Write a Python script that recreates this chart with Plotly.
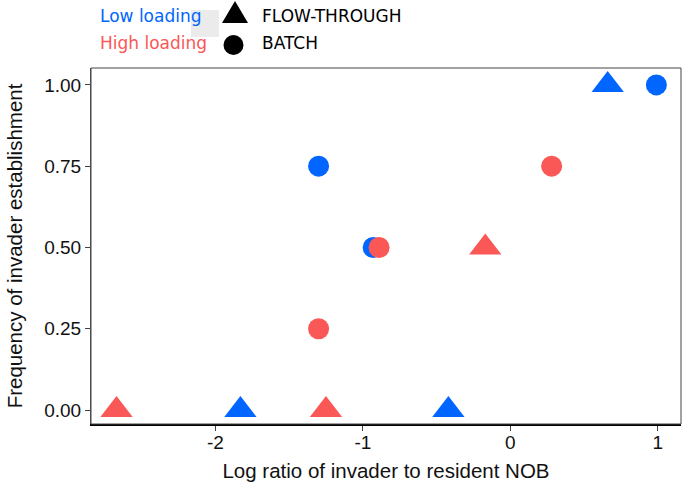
import plotly.graph_objects as go

# data (log ratio, frequency of establishment)
low_flow_x = [0.66, -1.83, -0.42]
low_flow_y = [1.00, 0.00, 0.00]
low_batch_x = [0.99, -1.30, -0.93]
low_batch_y = [1.00, 0.75, 0.50]
high_flow_x = [-2.67, -1.25, -0.17]
high_flow_y = [0.00, 0.00, 0.50]
high_batch_x = [-1.30, -0.89, 0.28]
high_batch_y = [0.25, 0.50, 0.75]

x_ticks = [-2, -1, 0, 1]
y_ticks = [0, 0.25, 0.5, 0.75, 1.0]
y_ticktext = ["0.00", "0.25", "0.50", "0.75", "1.00"]

BLUE = "#0066FF"
RED = "#FA5757"

# plot panel in pixels (used to place the hand made legend)
L, R, T, B = 91, 681, 68, 424


def px(x):
    return (x - L) / (R - L)


def py(y):
    return (B - y) / (B - T)


fig = go.Figure()

for xs, ys, col, sym, size in [
    (low_flow_x, low_flow_y, BLUE, "triangle-up", 28),
    (low_batch_x, low_batch_y, BLUE, "circle", 21),
    (high_flow_x, high_flow_y, RED, "triangle-up", 28),
    (high_batch_x, high_batch_y, RED, "circle", 21),
]:
    fig.add_trace(go.Scatter(
        x=xs, y=ys, mode="markers",
        marker=dict(color=col, symbol=sym, size=size, line=dict(width=0)),
        showlegend=False, hoverinfo="x+y"
    ))

fig.update_layout(
    width=685, height=488,
    margin=dict(l=L, r=685 - R, t=T, b=488 - B),
    plot_bgcolor="white", paper_bgcolor="white",
    font=dict(family="Liberation Sans, Arial, sans-serif", color="#111"),
    showlegend=False,
)

fig.update_xaxes(
    range=[-2.843, 1.157], tickvals=x_ticks, ticktext=["-2", "-1", "0", "1"],
    showgrid=False, zeroline=False, automargin=False,
    showline=True, linecolor="black", linewidth=2,
    ticks="outside", ticklen=5, tickcolor="#444", tickwidth=1,
    tickfont=dict(size=19), ticklabelstandoff=-5,
    title=dict(text="Log ratio of invader to resident NOB", font=dict(size=20.5), standoff=12),
)
fig.update_yaxes(
    range=[-0.043, 1.052], tickvals=y_ticks, ticktext=y_ticktext,
    showgrid=False, zeroline=False, automargin=False,
    showline=True, linecolor="#555", linewidth=1,
    ticks="outside", ticklen=5, tickcolor="#444", tickwidth=1,
    tickfont=dict(size=19),
    title=dict(text="Frequency of invader establishment", font=dict(size=20.5), standoff=16),
)

# thin frame on top and right
fig.add_shape(type="rect", xref="paper", yref="paper", x0=0, x1=1, y0=0, y1=1,
              line=dict(color="#444", width=1), layer="above")

# grey key background left over in the legend
fig.add_shape(type="rect", xref="paper", yref="paper",
              x0=px(191), x1=px(219), y0=py(37), y1=py(10),
              fillcolor="#EBEBEB", line=dict(width=0), layer="below")

# legend keys: black triangle and circle
tri = "M {} {} L {} {} L {} {} Z".format(px(222), py(23), px(248), py(23), px(235), py(1))
fig.add_shape(type="path", xref="paper", yref="paper", path=tri,
              fillcolor="black", line=dict(width=0))
fig.add_shape(type="circle", xref="paper", yref="paper",
              x0=px(223.5), x1=px(243.5), y0=py(55), y1=py(35),
              fillcolor="black", line=dict(width=0))

leg_font = "DejaVu Sans, Verdana, sans-serif"
for text, col, y in [("Low loading", BLUE, 16), ("High loading", RED, 43)]:
    fig.add_annotation(text=text, x=px(98), y=py(y), xref="paper", yref="paper",
                       xanchor="left", yanchor="middle", showarrow=False,
                       font=dict(family=leg_font, size=17, color=col))
for text, y in [("FLOW-THROUGH", 16), ("BATCH", 43)]:
    fig.add_annotation(text=text, x=px(260), y=py(y), xref="paper", yref="paper",
                       xanchor="left", yanchor="middle", showarrow=False,
                       font=dict(family=leg_font, size=17, color="black"))

# no page margin so the figure sits at the top-left corner
fig.write_html("out.html", config={"displayModeBar": False},
               post_script="document.body.style.margin='0';")
